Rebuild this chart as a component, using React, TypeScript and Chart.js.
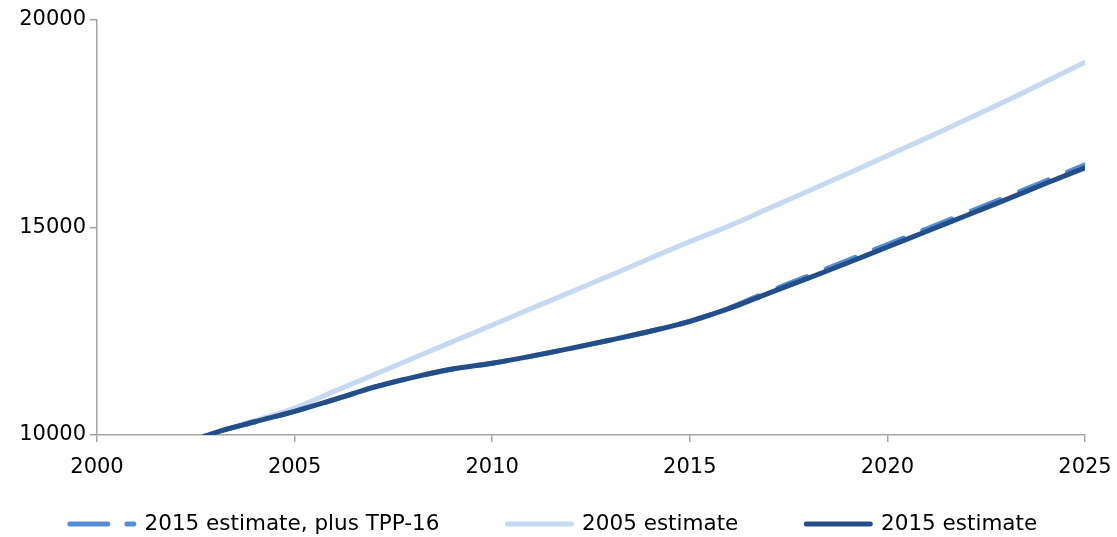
import React, { useEffect, useRef } from 'react';
import { Chart, registerables } from 'chart.js';

Chart.register(...registerables);

// ---- data ----
const years = [2002, 2003, 2004, 2005, 2006, 2007, 2008, 2009, 2010, 2011, 2012, 2013, 2014, 2015, 2016, 2017, 2018, 2019, 2020, 2021, 2022, 2023, 2024, 2025];
const est2015PlusTPP = [9710, 10060, 10320, 10570, 10850, 11150, 11390, 11590, 11730, 11900, 12090, 12290, 12500, 12740, 13060, 13460, 13830, 14210, 14590, 14970, 15350, 15730, 16120, 16510];
const est2005 = [9720, 10060, 10350, 10650, 11050, 11450, 11850, 12250, 12650, 13050, 13450, 13850, 14260, 14660, 15040, 15460, 15880, 16300, 16730, 17160, 17600, 18050, 18510, 18980];
const est2015 = [9710, 10060, 10320, 10570, 10850, 11150, 11390, 11590, 11730, 11900, 12090, 12290, 12500, 12740, 13050, 13420, 13780, 14150, 14530, 14910, 15290, 15670, 16060, 16440];
const seriesLabels = ['2015 estimate, plus TPP-16', '2005 estimate', '2015 estimate'];
const xTicks = [2000, 2005, 2010, 2015, 2020, 2025];
const yTicks = [10000, 15000, 20000];

const COLORS = ['#558ed5', '#c6d9f1', '#234e88'];
const AXIS = '#a6a6a6';
const FONT = 'DejaVu Sans';
const TICK_SIZE = 21;
const LEGEND_SIZE = 21.5;
const LEGEND_PAD = 68;
const LEGEND_SHIFT_X = -5;
const LINE_W = 5;

const toPoints = (vals: number[]) => years.map((y, i) => ({ x: y, y: vals[i] }));

export default function App() {
  const ref = useRef<HTMLCanvasElement | null>(null);

  useEffect(() => {
    if (!ref.current) return;
    const legendShift = {
      id: 'legendShift',
      afterLayout(chart: any) {
        const lg = chart.legend;
        if (lg) {
          lg.top = chart.height - 13 - LEGEND_PAD - LEGEND_SIZE / 2;
          lg.left = LEGEND_SHIFT_X;
          lg.right = chart.width + LEGEND_SHIFT_X;
        }
      },
    };
    const chart = new Chart(ref.current, {
      type: 'line',
      data: {
        datasets: [
          {
            label: seriesLabels[0],
            data: toPoints(est2015PlusTPP),
            borderColor: COLORS[0],
            backgroundColor: COLORS[0],
            borderWidth: LINE_W,
            borderDash: [31, 21],
            borderCapStyle: 'round',
            pointRadius: 0,
            tension: 0.35,
            order: 1,
          },
          {
            label: seriesLabels[1],
            data: toPoints(est2005),
            borderColor: COLORS[1],
            backgroundColor: COLORS[1],
            borderWidth: LINE_W,
            borderCapStyle: 'round',
            pointRadius: 0,
            tension: 0.35,
            order: 2,
          },
          {
            label: seriesLabels[2],
            data: toPoints(est2015),
            borderColor: COLORS[2],
            backgroundColor: COLORS[2],
            borderWidth: LINE_W,
            borderCapStyle: 'round',
            pointRadius: 0,
            tension: 0.35,
            order: 0,
          },
        ] as any,
      },
      options: {
        responsive: false,
        animation: false,
        layout: { padding: { top: 20, right: 0, left: 0, bottom: 0 } },
        font: { family: FONT, size: TICK_SIZE } as any,
        color: '#000',
        scales: {
          x: {
            type: 'linear',
            min: 2000,
            max: 2025,
            afterBuildTicks: (s: any) => {
              s.ticks = xTicks.map((v) => ({ value: v }));
            },
            afterFit: (s: any) => {
              s.height = 62;
              s.paddingLeft = 0;
              s.paddingRight = 32;
            },
            grid: { display: true, drawOnChartArea: false, drawTicks: true, tickLength: 7, color: AXIS, lineWidth: 1.5 },
            border: { display: true, color: AXIS, width: 1.5 },
            ticks: {
              color: '#000',
              font: { family: FONT, size: TICK_SIZE },
              padding: 13,
              maxRotation: 0,
              autoSkip: false,
              callback: (v: any) => String(v),
            },
          },
          y: {
            type: 'linear',
            min: 10000,
            max: 20000,
            afterBuildTicks: (s: any) => {
              s.ticks = yTicks.map((v) => ({ value: v }));
            },
            afterFit: (s: any) => {
              s.width = 97;
            },
            grid: { display: true, drawOnChartArea: false, drawTicks: true, tickLength: 7, color: AXIS, lineWidth: 1.5 },
            border: { display: true, color: AXIS, width: 1.5 },
            ticks: {
              color: '#000',
              font: { family: FONT, size: TICK_SIZE },
              padding: 4,
              callback: (v: any) => String(v),
            },
          },
        },
        plugins: {
          tooltip: { enabled: false },
          legend: {
            display: true,
            position: 'bottom',
            maxHeight: 40,
            labels: {
              usePointStyle: true,
              pointStyleWidth: 64,
              padding: LEGEND_PAD,
              color: '#000',
              font: { family: FONT, size: LEGEND_SIZE },
              generateLabels: (c: any) =>
                c.data.datasets.map((ds: any, i: number) => ({
                  text: ds.label,
                  fillStyle: ds.borderColor,
                  strokeStyle: ds.borderColor,
                  lineWidth: LINE_W,
                  lineCap: 'round',
                  lineDash: ds.borderDash ? [38, 19] : [],
                  pointStyle: 'line',
                  hidden: false,
                  datasetIndex: i,
                  fontColor: '#000',
                })),
            },
          },
        },
      } as any,
      plugins: [legendShift],
    });
    return () => chart.destroy();
  }, []);

  return (
    <div style={{ position: 'fixed', left: 0, top: 0, width: 1117, height: 537, background: '#fff' }}>
      <canvas ref={ref} width={1117} height={537} style={{ display: 'block' }} />
    </div>
  );
}
